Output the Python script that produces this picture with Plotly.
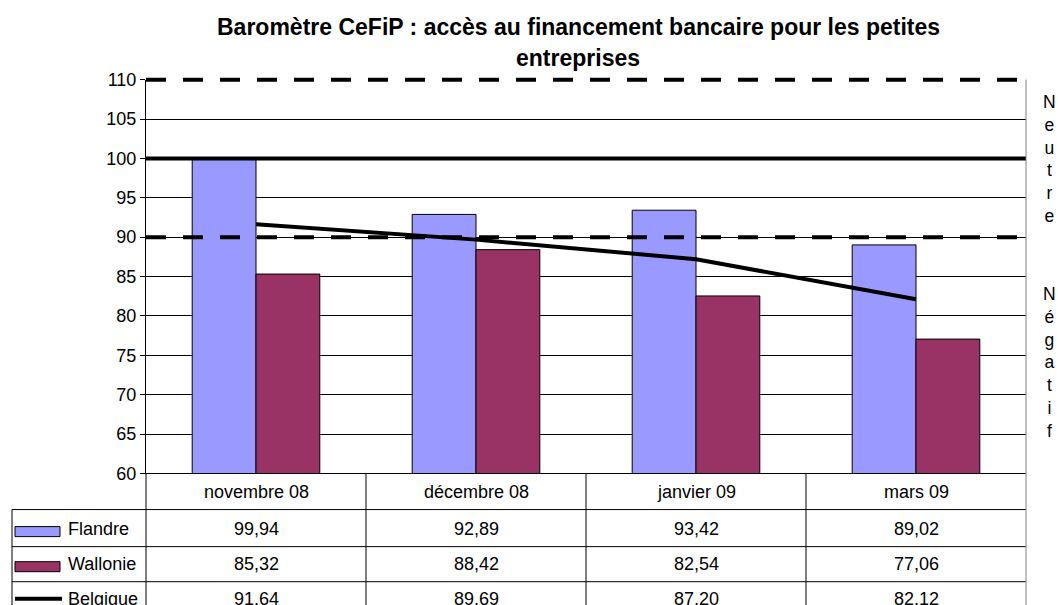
import plotly.graph_objects as go

categories = ["novembre 08", "décembre 08", "janvier 09", "mars 09"]
flandre = [99.94, 92.89, 93.42, 89.02]
wallonie = [85.32, 88.42, 82.54, 77.06]
belgique = [91.64, 89.69, 87.20, 82.12]
series_names = ["Flandre", "Wallonie", "Belgique"]
y_min, y_max, y_step = 60, 110, 5
y_ticks = list(range(y_min, y_max + 1, y_step))
dashed_levels = [110, 90]
solid_levels = [100]
title_lines = ["Baromètre CeFiP : accès au financement bancaire pour les petites", "entreprises"]
side_top = "Neutre"
side_bottom = "Négatif"

W = 1058
H = 626
OFF, S = 9.5, 0.966
FONT = "Liberation Sans, Arial, sans-serif"
C_FL = "#9999FF"
C_WA = "#993366"


def px(x):
    return x / W


def py(y):
    return 1 - ((y - OFF) / S) / H


def ydom(v):
    return (v - y_min) / (y_max - y_min)


X0, X1 = 146, 1026
Y_TOP, Y_BOT = 79, 472
Y_END = 606

fig = go.Figure()
fig.add_trace(go.Bar(x=categories, y=flandre, name=series_names[0],
                     marker=dict(color=C_FL, line=dict(color="black", width=1))))
fig.add_trace(go.Bar(x=categories, y=wallonie, name=series_names[1],
                     marker=dict(color=C_WA, line=dict(color="black", width=1))))
fig.add_trace(go.Scatter(x=categories, y=belgique, name=series_names[2], mode="lines",
                         line=dict(color="black", width=4)))

shapes = []
for lv in dashed_levels:
    shapes.append(dict(type="line", xref="paper", yref="y domain", x0=px(X0), x1=px(X1),
                       y0=ydom(lv), y1=ydom(lv),
                       line=dict(color="black", width=4, dash="20px,17px"), layer="above"))
for lv in solid_levels:
    shapes.append(dict(type="line", xref="paper", yref="y domain", x0=px(X0), x1=px(X1),
                       y0=ydom(lv), y1=ydom(lv),
                       line=dict(color="black", width=4), layer="above"))

# table grid
row_lines = [508, 545, 580]
for yy in row_lines:
    shapes.append(dict(type="line", xref="paper", yref="paper", x0=px(12), x1=px(X1),
                       y0=py(yy), y1=py(yy), line=dict(color="black", width=1)))
col_w = (X1 - X0) / len(categories)
for i in range(len(categories)):
    xx = X0 + i * col_w
    shapes.append(dict(type="line", xref="paper", yref="paper", x0=px(xx), x1=px(xx),
                       y0=py(Y_BOT), y1=py(Y_END), line=dict(color="black", width=1)))
shapes.append(dict(type="line", xref="paper", yref="paper", x0=px(X1), x1=px(X1),
                   y0=py(Y_TOP), y1=py(Y_END), line=dict(color="#808080", width=1)))
shapes.append(dict(type="line", xref="paper", yref="paper", x0=px(12), x1=px(12),
                   y0=py(508), y1=py(Y_END), line=dict(color="black", width=1)))

# legend keys in table
shapes.append(dict(type="rect", xref="paper", yref="paper", x0=px(15), x1=px(60),
                   y0=py(535), y1=py(525), fillcolor=C_FL, line=dict(color="black", width=1)))
shapes.append(dict(type="rect", xref="paper", yref="paper", x0=px(15), x1=px(60),
                   y0=py(570), y1=py(560), fillcolor=C_WA, line=dict(color="black", width=1)))
shapes.append(dict(type="line", xref="paper", yref="paper", x0=px(15), x1=px(62),
                   y0=py(597), y1=py(597), line=dict(color="black", width=4)))

annotations = []
for ln, yc in zip(title_lines, [26, 57]):
    annotations.append(dict(text=f"<b>{ln}</b>", xref="paper", yref="paper", x=px(578), y=py(yc),
                            xanchor="center", yanchor="middle", showarrow=False,
                            font=dict(family=FONT, size=23, color="black")))

tfont = dict(family=FONT, size=18, color="black")
for i, c in enumerate(categories):
    cx = X0 + (i + 0.5) * col_w
    annotations.append(dict(text=c, xref="paper", yref="paper", x=px(cx), y=py(490),
                            xanchor="center", yanchor="middle", showarrow=False, font=tfont))
row_centers = [527, 562, 597]
for r, (nm, vals) in enumerate(zip(series_names, [flandre, wallonie, belgique])):
    annotations.append(dict(text=nm, xref="paper", yref="paper", x=px(66), y=py(row_centers[r]),
                            xanchor="left", yanchor="middle", showarrow=False, font=tfont))
    for i, v in enumerate(vals):
        cx = X0 + (i + 0.5) * col_w
        annotations.append(dict(text=f"{v:.2f}".replace(".", ","), xref="paper", yref="paper",
                                x=px(cx), y=py(row_centers[r]), xanchor="center", yanchor="middle",
                                showarrow=False, font=tfont))

sfont = dict(family=FONT, size=17.5, color="black")
annotations.append(dict(text="<br>".join(side_top), xref="paper", yref="paper", x=px(1049), y=py(158),
                        xanchor="center", yanchor="middle", showarrow=False, font=sfont))
annotations.append(dict(text="<br>".join(side_bottom), xref="paper", yref="paper", x=px(1049), y=py(361),
                        xanchor="center", yanchor="middle", showarrow=False, font=sfont))

fig.update_layout(
    width=W, height=H,
    margin=dict(l=0, r=0, t=0, b=0),
    paper_bgcolor="white", plot_bgcolor="white",
    barmode="group", bargap=0.42, bargroupgap=0,
    showlegend=False,
    shapes=shapes, annotations=annotations,
    font=dict(family=FONT, size=18, color="black"),
    xaxis=dict(domain=[px(X0), px(X1)], range=[-0.5, 3.5], showticklabels=False, ticks="",
               showline=True, linecolor="black", linewidth=1, showgrid=False, zeroline=False),
    yaxis=dict(domain=[py(Y_BOT), py(Y_TOP)], range=[y_min, y_max], tickvals=y_ticks,
               showgrid=True, gridcolor="black", gridwidth=1, ticks="outside", ticklen=5,
               tickcolor="black", showline=True, linecolor="black", linewidth=1, zeroline=False,
               tickfont=dict(family=FONT, size=18, color="black")),
)

fig.write_html("out.html", config={"displayModeBar": False},
               post_script="document.body.style.margin='0';")
